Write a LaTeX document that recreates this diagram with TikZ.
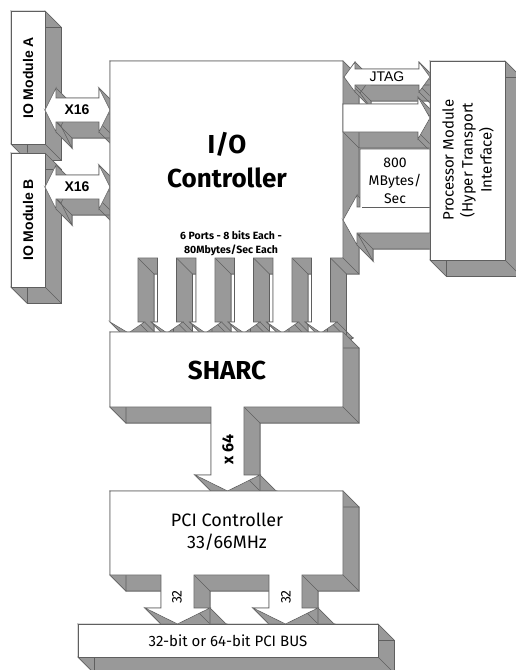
\documentclass[tikz,border=0pt]{standalone}
\usepackage{fontspec}
\setmainfont{Fira Sans}
\newfontfamily\arialfont{Liberation Sans}
\usetikzlibrary{positioning}

\definecolor{sidegray}{RGB}{153,153,153}
\definecolor{edgegray}{RGB}{95,95,95}

% extruded block from a list of x/y corners: side faces, back outline, corner lines, white front
\newcommand{\blockshape}[1]{%
  \foreach \x/\y [count=\i] in {#1}{%
    \ifnum\i=1 \xdef\facepath{(\x,\y)}\else \xdef\facepath{\facepath -- (\x,\y)}\fi
    \xdef\lastx{\x}\xdef\lasty{\y}%
  }%
  \fill[side3d, shift={(16,16)}] \facepath -- cycle;
  \foreach \x/\y [remember=\x as \px (initially \lastx), remember=\y as \py (initially \lasty)] in {#1}{%
    \filldraw[side3d] (\px,\py) -- (\x,\y) -- (\x+16,\y+16) -- (\px+16,\py+16) -- cycle;
  }%
  \draw[edge3d, shift={(16,16)}] \facepath -- cycle;
  \foreach \x/\y in {#1}{\draw[edge3d] (\x,\y) -- (\x+16,\y+16);}%
  \filldraw[face3d] \facepath -- cycle;
}

\tikzset{
  side3d/.style={fill=sidegray, draw=sidegray, line width=0.7pt},
  edge3d/.style={draw=edgegray, line width=0.6pt},
  face3d/.style={fill=white, draw=edgegray, line width=0.6pt},
  armlabel/.style={font=\arialfont\bfseries\fontsize{14}{16}\selectfont},
  plainlabel/.style={font=\fontsize{15}{18}\selectfont, align=center},
  biglabel/.style={font=\bfseries\fontsize{26}{34}\selectfont, align=center},
}

\begin{document}
\begin{tikzpicture}[x=1pt, y=-1pt]

    \clip (0,0) rectangle (516,670);
    \fill[white] (0,0) rectangle (516,670);

    % 1. IO modules
    \blockshape{11/11, 45/11, 45/144, 11/144}
    \blockshape{11/153, 45/153, 45/287, 11/287}

    % 2. X16 links
    \blockshape{45/110, 56/88, 56/98, 99/98, 99/88, 110/110, 99/132, 99/122, 56/122, 56/132}
    \blockshape{45/187, 56/165, 56/175, 99/175, 99/165, 110/187, 99/209, 99/199, 56/199, 56/209}

    % 3. I/O controller with its six port arrows
    \xdef\combpts{110/61, 343/61, 343/258}
    \foreach \c in {321,282.5,244,205.5,167}{
        \xdef\combpts{\combpts, \c+9.5/258, \c+9.5/322, \c+16/322, \c/333, \c-16/322, \c-9.5/322, \c-9.5/258}
    }
    \xdef\combpts{\combpts, 138/258, 138/322, 144.5/322, 128.5/333, 110/322}
    \expandafter\blockshape\expandafter{\combpts}

    % 4. SHARC with x64 arrow
    \blockshape{110/332, 343/332, 343/407, 244/407, 244/475, 260/475, 227.5/491, 195/475, 211/475, 211/407, 110/407}

    % 5. JTAG and 800 MBytes/Sec links
    \blockshape{344/77, 355/62, 355/69, 419/69, 419/62, 430/77, 419/92, 419/85, 355/85, 355/92}
    \blockshape{343/104, 418/104, 418/97, 430/118, 418/139, 418/132, 343/132}
    \blockshape{430/149, 360/149, 360/207, 357/207, 357/195, 343/220, 357/245, 357/233, 430/233}
    \draw[edge3d] (362,207) -- (430,207);

    % 6. Processor module
    \blockshape{430/61, 505/61, 505/260, 430/260}

    % 7. PCI controller with two 32 arrows
    \blockshape{110/491, 343/491, 343/575, 302/575, 302/608, 318/608, 285.5/624, 253/608, 269/608, 269/575, 194/575, 194/608, 210/608, 177.5/624, 145/608, 161/608, 161/575, 110/575}

    % 8. PCI bus
    \blockshape{78/624, 378/624, 378/657, 78/657}

    % 9. Labels
    \node[armlabel, rotate=90] (modA) at (28,78) {IO Module A};
    \node[armlabel, rotate=90] (modB) at (28,220) {IO Module B};
    \node[armlabel] (linkA) at (77,110) {X16};
    \node[armlabel] (linkB) at (77,187) {X16};
    \node[font=\arialfont\fontsize{14}{16}\selectfont] (jtag) at (387,77) {JTAG};
    \node[biglabel] (ioc) at (227,160) {I/O\\Controller};
    \node[font=\bfseries\fontsize{10.5}{14}\selectfont, align=center] (ports) at (231,243) {6 Ports - 8 bits Each -\\80Mbytes/Sec Each};
    \node[plainlabel, font=\fontsize{14}{18}\selectfont] (rate) at (395,181) {800\\MBytes/\\Sec};
    \node[plainlabel, rotate=90, font=\fontsize{15}{19}\selectfont] (proc) at (468,160) {Processor Module\\(Hyper Transport\\Interface)};
    \node[biglabel] (sharc) at (227,370) {SHARC};
    \node[font=\bfseries\fontsize{16}{18}\selectfont, rotate=90] (wide64) at (228,449) {x 64};
    \node[plainlabel, font=\fontsize{18}{22}\selectfont] (pcic) at (227,532) {PCI Controller\\33/66MHz};
    \node[font=\fontsize{14}{16}\selectfont, rotate=90] (wideA) at (177,597) {32};
    \node[font=\fontsize{14}{16}\selectfont, rotate=90] (wideB) at (286,597) {32};
    \node[font=\fontsize{15}{18}\selectfont] (bus) at (228,641) {32-bit or 64-bit PCI BUS};

\end{tikzpicture}
\end{document}
